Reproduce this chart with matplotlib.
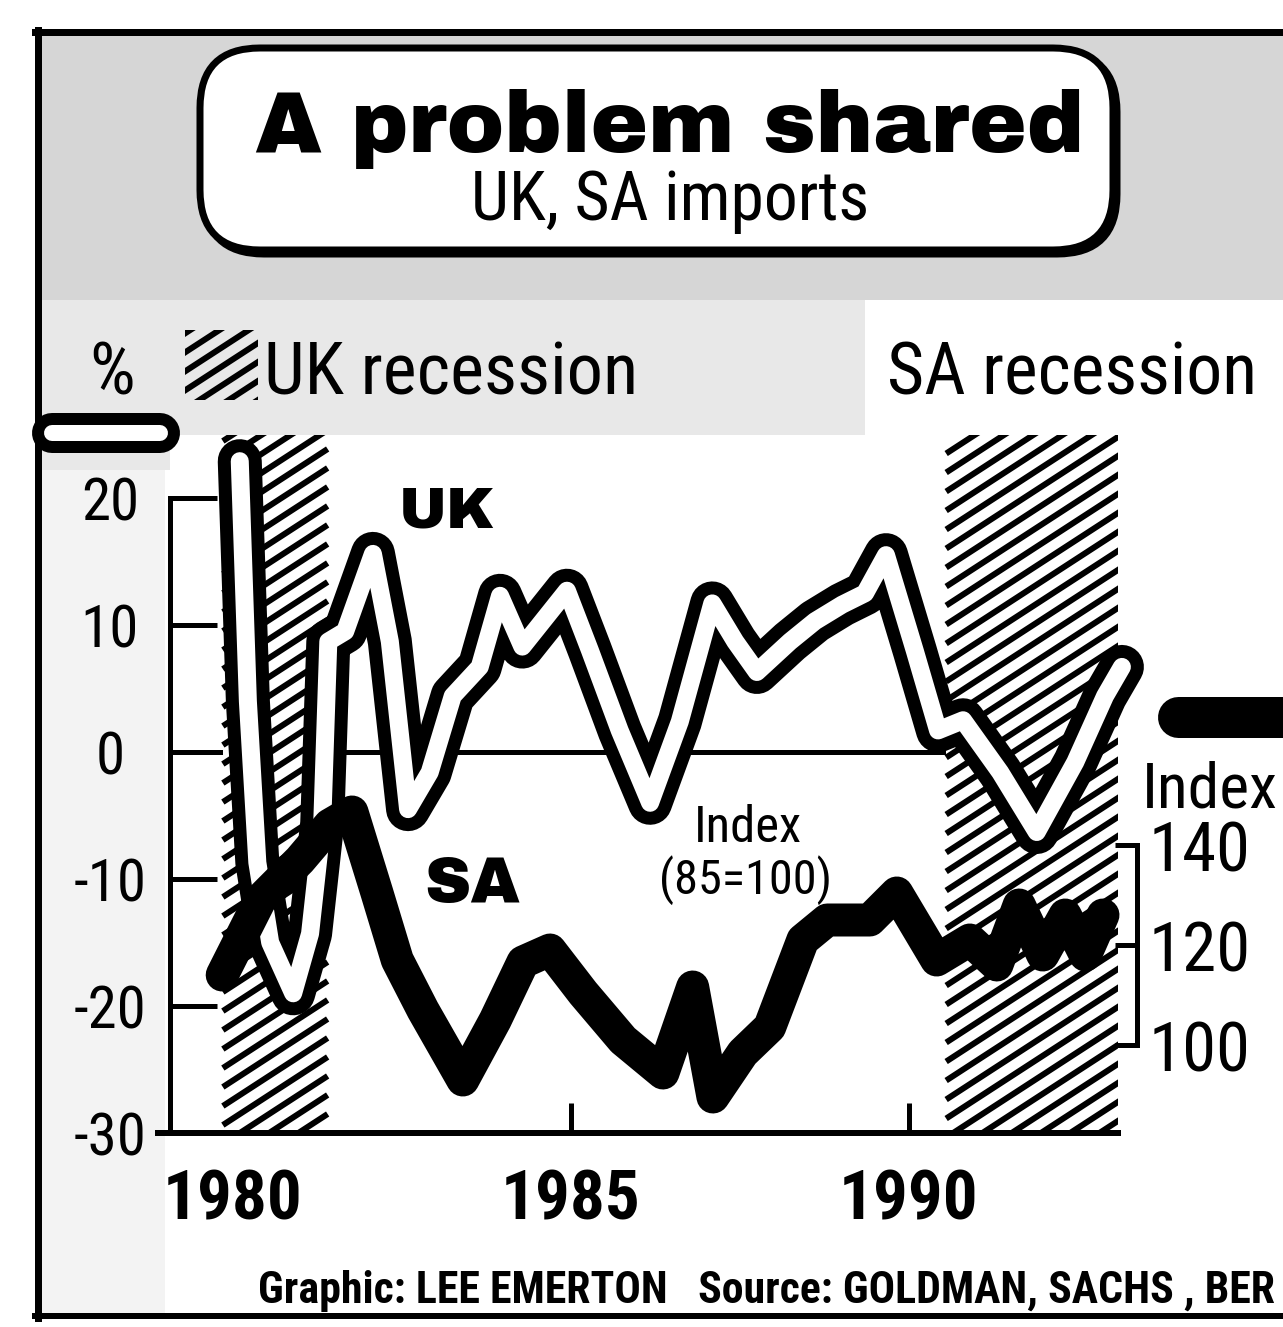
import matplotlib
matplotlib.use("Agg")
import matplotlib.pyplot as plt
import numpy as np
import os
from matplotlib.patches import Rectangle, FancyBboxPatch
from matplotlib.lines import Line2D
from matplotlib.transforms import IdentityTransform
from matplotlib.ticker import FixedLocator, FixedFormatter
from matplotlib import font_manager as fm

plt.rcParams['axes.unicode_minus'] = False

# ---------------- data ----------------
uk_years = [1980.10, 1980.22, 1980.36, 1980.55, 1980.89, 1981.14, 1981.32, 1981.41,
            1981.66, 1982.07, 1982.32, 1982.59, 1982.91, 1983.25, 1983.65, 1983.95,
            1984.28, 1984.94, 1985.28, 1985.72, 1986.17, 1986.61, 1987.09, 1987.43,
            1987.75, 1988.24, 1988.61, 1989.01, 1989.35, 1989.66, 1990.09, 1990.43,
            1990.80, 1991.35, 1991.89, 1992.46, 1992.90, 1993.15]
uk_pct = [22.9, 4.0, -8.7, -15.0, -19.0, -14.3, -5.6, 8.7,
          9.5, 15.6, 8.7, -4.5, -1.6, 4.4, 6.7, 12.3,
          8.3, 12.7, 8.0, 1.7, -4.0, 2.4, 11.7, 8.7,
          6.3, 8.7, 10.3, 11.6, 12.5, 15.5, 7.9, 1.7,
          2.5, -1.6, -6.3, -0.8, 4.4, 6.7]

sa_years = [1979.84, 1980.40, 1980.99, 1981.43, 1981.76, 1982.13, 1982.43, 1982.81,
            1983.40, 1983.88, 1984.29, 1984.69, 1985.18, 1985.77, 1986.36, 1986.80,
            1987.10, 1987.54, 1987.94, 1988.43, 1988.79, 1989.42, 1989.82, 1990.41,
            1990.90, 1991.30, 1991.63, 1991.98, 1992.31, 1992.61, 1992.87]
sa_index = [114, 129, 137, 144, 146.6, 130.4, 117, 107,
            93, 105, 116.6, 119, 110.4, 101, 94.4, 111.6,
            89.6, 98.4, 103.6, 121, 125, 125, 130.4, 117,
            121, 116, 128, 118, 126, 118, 126]

pct_ticks = [20, 10, 0, -10, -20, -30]
pct_labels = ['20', '10', '0', '-10', '-20', '-30']
index_ticks = [140, 120, 100]
index_labels = ['140', '120', '100']
year_ticks = [1980, 1985, 1990]
year_labels = ['1980', '1985', '1990']
uk_recession = (1979.85, 1981.40)
sa_recession = (1990.55, 1993.25)

# ---------------- fonts ----------------
_by_base = {}
for f in fm.fontManager.ttflist:
    _by_base.setdefault(os.path.basename(f.fname), f.fname)

def pick(*bases):
    for b in bases:
        if b in _by_base:
            return _by_base[b]
    return None

REG_PATH = pick('RobotoCondensed-Regular.ttf', 'ArchivoNarrow[wght].ttf',
                'IBMPlexSansCondensed-Regular.ttf', 'PT_Sans-Narrow-Web-Regular.ttf')
BOLD_PATH = pick('RobotoCondensed-Bold.ttf', 'IBMPlexSansCondensed-Bold.ttf',
                 'PT_Sans-Narrow-Web-Bold.ttf')
BLACK_PATH = pick('ArchivoBlack-Regular.ttf', 'Roboto-Black.ttf', 'Lato-Black.ttf')

def fp(kind, size):
    path = {'reg': REG_PATH, 'bold': BOLD_PATH, 'black': BLACK_PATH}[kind]
    if path:
        return fm.FontProperties(fname=path, size=size)
    return fm.FontProperties(family=['Liberation Sans', 'DejaVu Sans'],
                             weight='normal' if kind == 'reg' else 'bold', size=size)

# ---------------- layout helpers ----------------
W, H = 1283, 1327
DPI = 100

def pt(px):
    return px * 72.0 / DPI

def fx(x):
    return x / W

def fy(y):
    return 1 - y / H

fig = plt.figure(figsize=(W / DPI, H / DPI), dpi=DPI)
fig.patch.set_facecolor('white')
IDT = IdentityTransform()
renderer = fig.canvas.get_renderer()

def fit_width(txt, target_px, max_size=None):
    w = txt.get_window_extent(renderer).width
    size = txt.get_fontsize() * target_px / w
    if max_size is not None:
        size = min(size, max_size)
    txt.set_fontsize(size)
    return size

def measure_size(s, prop, target_px, max_size):
    t = fig.text(0, 0, s, fontproperties=prop)
    w = t.get_window_extent(renderer).width
    size = prop.get_size_in_points() * target_px / w
    t.remove()
    return min(size, max_size)

# light grey newsprint tone behind header
fig.add_artist(Rectangle((35, H - 300), W - 35, 270, transform=IDT,
                         facecolor='#d6d6d6', edgecolor='none', zorder=-2))
fig.add_artist(Rectangle((35, H - 470), 830, 170, transform=IDT,
                         facecolor='#e8e8e8', edgecolor='none', zorder=-2))
fig.add_artist(Rectangle((35, H - 1318), 130, 848, transform=IDT,
                         facecolor='#f3f3f3', edgecolor='none', zorder=-2))

# ---------------- axes ----------------
left_px, right_px, bottom_px, top_px = 170, 1118, 1133, 434.5
ax = fig.add_axes([fx(left_px), fy(bottom_px), (right_px - left_px) / W,
                   (bottom_px - top_px) / H])
ax.set_facecolor('white')
ax.set_xlim(1979.068, 1993.092)
ax.set_ylim(-30, 25)

ax2 = ax.twinx()
ax2.set_ylim(82.4, 222.1)
ax2.set_xlim(1979.068, 1993.092)

for s in ['top', 'right']:
    ax.spines[s].set_visible(False)
for s in ['top', 'left', 'bottom']:
    ax2.spines[s].set_visible(False)

ax.spines['left'].set_bounds(-30, 20)
ax.spines['left'].set_linewidth(pt(5))
ax.spines['bottom'].set_linewidth(pt(6))

ysize = measure_size('20', fp('reg', 40), 58, 48)
xsize = measure_size('1980', fp('bold', 50), 140, 62)
rsize = measure_size('140', fp('reg', 45), 102, 54)

ax.yaxis.set_major_locator(FixedLocator(pct_ticks))
ax.yaxis.set_major_formatter(FixedFormatter(pct_labels))
ax.tick_params(axis='y', direction='in', length=pt(47), width=pt(5), pad=pt(60))
for lab in ax.get_yticklabels():
    lab.set_fontproperties(fp('reg', ysize))
    lab.set_horizontalalignment('center')

ax.xaxis.set_major_locator(FixedLocator(year_ticks))
ax.xaxis.set_major_formatter(FixedFormatter(year_labels))
ax.tick_params(axis='x', direction='in', length=pt(30), width=pt(5), pad=pt(36))
for lab in ax.get_xticklabels():
    lab.set_fontproperties(fp('bold', xsize))

ax2.spines['right'].set_position(('axes', (1137 - left_px) / (right_px - left_px)))
ax2.spines['right'].set_bounds(100, 140)
ax2.spines['right'].set_linewidth(pt(5))
ax2.yaxis.set_major_locator(FixedLocator(index_ticks))
ax2.yaxis.set_major_formatter(FixedFormatter(index_labels))
ax2.tick_params(axis='y', direction='in', length=pt(22), width=pt(5), pad=pt(12))
for lab in ax2.get_yticklabels():
    lab.set_fontproperties(fp('reg', rsize))

# zero line
ax.axhline(0, color='black', lw=pt(5), zorder=0.5)
# short overhang of the base line to the left of the % axis
fig.add_artist(Line2D([158, 172], [H - 1133, H - 1133], transform=IDT, color='black', lw=pt(6)))

# ---------------- recession hatching ----------------
def hatch_region(host, x0, y0, x1, y1, clip_patch, spacing=19, angle=33, lw=6):
    t = np.tan(np.radians(angle))
    k = y0 - t * (x1 - x0) - spacing
    while k < y1 + spacing:
        ln = Line2D([x0, x1], [k, k + t * (x1 - x0)], transform=IDT,
                    color='black', lw=pt(lw), solid_capstyle='butt')
        ln.set_clip_path(clip_patch)
        ln.set_zorder(clip_patch.get_zorder() + 0.1)
        host.add_artist(ln)
        k += spacing

for (r0, r1), rtop in [(uk_recession, 24.6), (sa_recession, 23.5)]:
    rect = Rectangle((r0, -30), r1 - r0, rtop + 30, facecolor='white',
                     edgecolor='none', zorder=2, clip_on=False)
    ax.add_patch(rect)
    xa, ya = ax.transData.transform((r0, -30))
    xb, yb = ax.transData.transform((r1, rtop))
    hatch_region(ax, xa, ya, xb, yb, rect)

# ---------------- lines ----------------
ax.plot(uk_years, uk_pct, color='black', lw=pt(44), solid_capstyle='round',
        solid_joinstyle='round', zorder=4, clip_on=False)
ax.plot(uk_years, uk_pct, color='white', lw=pt(18), solid_capstyle='round',
        solid_joinstyle='round', zorder=5, clip_on=False)
ax2.plot(sa_years, sa_index, color='black', lw=pt(33), solid_capstyle='round',
         solid_joinstyle='round', zorder=4, clip_on=False)

# ---------------- frame, title box ----------------
fig.add_artist(Line2D([38, 38], [H - 30, H - 1318], transform=IDT, color='black', lw=pt(7)))
fig.add_artist(Line2D([35, W], [H - 32, H - 32], transform=IDT, color='black', lw=pt(7)))
fig.add_artist(Line2D([35, W], [H - 1316, H - 1316], transform=IDT, color='black', lw=pt(6)))

shadow = FancyBboxPatch((204, H - 254), 913, 202, boxstyle='round,pad=0,rounding_size=60',
                        transform=IDT, facecolor='black', edgecolor='black', lw=pt(7), zorder=1)
fig.add_artist(shadow)
box = FancyBboxPatch((200, H - 250), 913, 202, boxstyle='round,pad=0,rounding_size=60',
                     transform=IDT, facecolor='white', edgecolor='black', lw=pt(7), zorder=2)
fig.add_artist(box)

title = fig.text(fx(670), fy(152), 'A problem shared', ha='center', va='baseline',
                 fontproperties=fp('black', 60), zorder=3)
fit_width(title, 830, 72)
sub = fig.text(fx(670), fy(220), 'UK, SA imports', ha='center', va='baseline',
               fontproperties=fp('reg', 40), zorder=3)
fit_width(sub, 398, 54)

# ---------------- legend row ----------------
fig.text(fx(112), fy(395), '%', ha='center', va='baseline', fontproperties=fp('reg', 52))
sw = Rectangle((185, H - 400), 73, 70, transform=IDT, facecolor='none',
               edgecolor='none', zorder=1)
fig.add_artist(sw)
t = np.tan(np.radians(33))
k = (H - 400) - t * 73 - 19
while k < H - 330 + 19:
    ln = Line2D([185, 258], [k, k + t * 73], transform=IDT, color='black', lw=pt(6))
    ln.set_clip_path(sw)
    ln.set_zorder(1.1)
    fig.add_artist(ln)
    k += 19
ukr = fig.text(fx(264), fy(395), 'UK recession', ha='left', va='baseline',
               fontproperties=fp('reg', 50))
lsize = fit_width(ukr, 375, 56)
sar = fig.text(fx(887), fy(395), 'SA recession', ha='left', va='baseline',
               fontproperties=fp('reg', lsize))
fit_width(sar, 370, lsize)

# line keys (pills)
fig.add_artist(Line2D([52, 160], [H - 433, H - 433], transform=IDT, color='black',
                      lw=pt(40), solid_capstyle='round', zorder=3))
fig.add_artist(Line2D([52, 160], [H - 433, H - 433], transform=IDT, color='white',
                      lw=pt(16), solid_capstyle='round', zorder=3.1))
fig.add_artist(Line2D([1178, 1320], [H - 717, H - 717], transform=IDT, color='black',
                      lw=pt(41), solid_capstyle='round', zorder=3))

# ---------------- in-plot labels ----------------
uk_t = fig.text(fx(447), fy(512), 'UK', ha='center', va='center',
                fontproperties=fp('black', 40), zorder=6)
fit_width(uk_t, 96, 54)
sa_t = fig.text(fx(472), fy(885), 'SA', ha='center', va='center',
                fontproperties=fp('black', 40), zorder=6)
fit_width(sa_t, 96, 54)
i1 = fig.text(fx(748), fy(828), 'Index', ha='center', va='center', fontproperties=fp('reg', 38))
fit_width(i1, 108, 42)
i2 = fig.text(fx(746), fy(880), '(85=100)', ha='center', va='center', fontproperties=fp('reg', 38))
fit_width(i2, 172, 42)
i3 = fig.text(fx(1278), fy(790), 'Index', ha='right', va='center', fontproperties=fp('reg', 50))
fit_width(i3, 136, 54)

cr = fig.text(fx(258), fy(1303), 'Graphic: LEE EMERTON   Source: GOLDMAN, SACHS , BER',
              ha='left', va='baseline', fontproperties=fp('bold', 27))
fit_width(cr, 1015, 34)

fig.savefig('out.png', dpi=DPI)
